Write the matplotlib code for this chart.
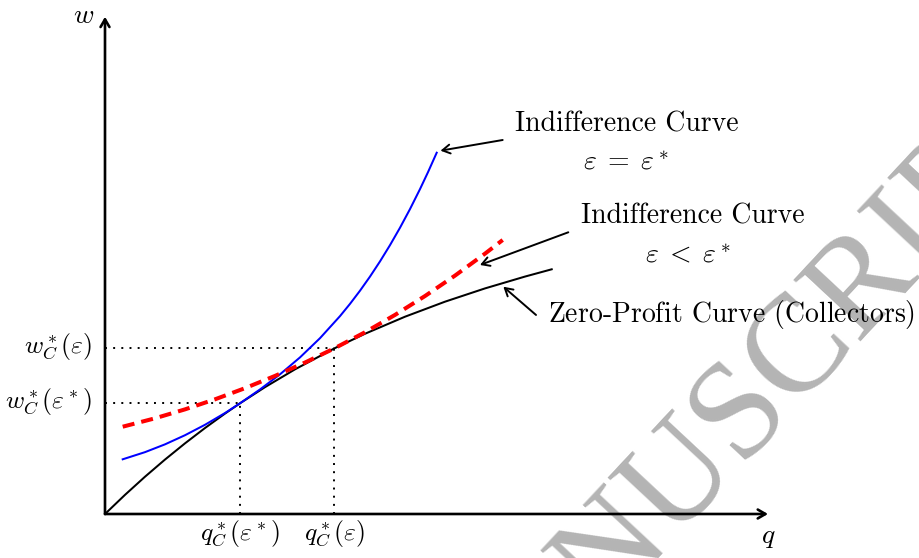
import matplotlib
matplotlib.use("Agg")
import matplotlib.pyplot as plt

plt.rcParams['mathtext.fontset'] = 'cm'
plt.rcParams['font.family'] = ['cmr10', 'DejaVu Serif']
plt.rcParams['axes.formatter.use_mathtext'] = True

# ---- data (conceptual units) ----
q_zero = [0.0, 0.3017, 0.6033, 0.905, 1.2066, 1.5083, 1.81, 2.0362, 2.4133, 2.8658,
          3.4615, 3.9216, 4.5249, 5.1282, 5.7315, 6.3348, 6.7376]
w_zero = [0.0, 0.2888, 0.5623, 0.8211, 1.0656, 1.2967, 1.5145, 1.6697, 1.9131, 2.1818,
          2.4991, 2.7186, 2.9757, 3.2023, 3.4026, 3.5811, 3.6908]

q_ic_eq = [0.267, 0.6033, 0.905, 1.2066, 1.5083, 1.81, 2.0362, 2.3379, 2.6395, 2.9412,
           3.2428, 3.5445, 3.6953, 3.8462, 3.997, 4.1478, 4.2986, 4.4495, 4.6003,
           4.7511, 4.8718, 5.003]
w_ic_eq = [0.825, 0.9329, 1.0505, 1.1882, 1.3456, 1.5229, 1.6697, 1.8787, 2.1068, 2.362,
           2.6519, 2.9846, 3.1694, 3.3679, 3.581, 3.8098, 4.0551, 4.3178, 4.5992,
           4.9002, 5.1558, 5.449]

q_ic_lt = [0.267, 0.7541, 1.2066, 1.6591, 2.1116, 2.5641, 3.0166, 3.4615, 3.9216, 4.3741,
           4.8265, 5.279, 5.7315, 5.9985]
w_ic_lt = [1.3167, 1.4433, 1.5781, 1.7297, 1.8979, 2.0828, 2.2845, 2.4992, 2.7413, 3.0027,
           3.2875, 3.5955, 3.9267, 4.133]

q_star_eq, w_star_eq = 2.036, 1.670   # q*_C(eps*), w*_C(eps*)
q_star_lt, w_star_lt = 3.4615, 2.499  # q*_C(eps),  w*_C(eps)
q_max, w_max = 10.0, 7.5

xtick_labels = [r'$q^*_C(\varepsilon^*)$', r'$q^*_C(\varepsilon)$']
ytick_labels = [r'$w^*_C(\varepsilon^*)$', r'$w^*_C(\varepsilon)$']

# ---- figure ----
fig = plt.figure(figsize=(9.2, 5.58), dpi=100)
ax = fig.add_axes([0, 0, 1, 1])
ax.set_xlim(-1.5837, 12.2926)
ax.set_ylim(-0.6637, 7.7526)
ax.axis('off')

# watermark (behind everything)
ax.text(0.4909, -0.3916, 'MANUSCRIPT', fontsize=100, color='#b4b4b4',
        family='Liberation Serif', rotation=47, rotation_mode='anchor',
        ha='left', va='baseline', zorder=0, transform=fig.transFigure, clip_on=False)

# axes with arrows
head = '->,head_length=0.55,head_width=0.32'
ax.annotate('', xy=(q_max, 0), xytext=(0, 0),
            arrowprops=dict(arrowstyle=head, lw=1.9, color='black',
                            shrinkA=0, shrinkB=0), zorder=5)
ax.annotate('', xy=(0, w_max), xytext=(0, 0),
            arrowprops=dict(arrowstyle=head, lw=1.9, color='black',
                            shrinkA=0, shrinkB=0), zorder=5)
ax.text(-0.317, 7.511, r'$w$', fontsize=20, ha='center', va='center')
ax.text(q_max, -0.151, r'$q$', fontsize=20, ha='center', va='top')

# dotted guides
dot = dict(color='black', lw=1.4, linestyle=(0, (1, 3.2)), zorder=2)
ax.plot([0, q_star_eq], [w_star_eq, w_star_eq], **dot)
ax.plot([q_star_eq, q_star_eq], [0, w_star_eq], **dot)
ax.plot([0, q_star_lt], [w_star_lt, w_star_lt], **dot)
ax.plot([q_star_lt, q_star_lt], [0, w_star_lt], **dot)

# curves
ax.plot(q_zero, w_zero, color='black', lw=1.45, zorder=3)
ax.plot(q_ic_eq, w_ic_eq, color='#0000ff', lw=1.45, zorder=3)
ax.plot(q_ic_lt, w_ic_lt, color='#ff0000', lw=2.9, linestyle=(0, (3.0, 1.75)),
        dash_capstyle='butt', zorder=4)

# tick-like labels
for q, lab in zip([q_star_eq, q_star_lt], xtick_labels):
    ax.text(q, -0.06, lab, fontsize=18.5, ha='center', va='top')
for w, lab in zip([w_star_eq, w_star_lt], ytick_labels):
    ax.text(-0.196, w + 0.02, lab, fontsize=18.5, ha='right', va='center')

# annotations
arr = dict(arrowstyle='->,head_length=0.55,head_width=0.32', lw=1.4, color='black',
           shrinkA=0, shrinkB=0)
ax.annotate('', xy=(5.060, 5.480), xytext=(5.998, 5.641), arrowprops=arr)
ax.annotate('', xy=(5.656, 3.756), xytext=(6.988, 4.249), arrowprops=arr)
ax.annotate('', xy=(6.008, 3.428), xytext=(6.501, 3.002), arrowprops=arr)

ax.text(7.870, 5.766, 'Indifference Curve', fontsize=20, ha='center', va='baseline',
        zorder=6)
ax.text(7.855, 5.199, r'$\varepsilon\;=\;\varepsilon^*$', fontsize=20, ha='center',
        va='baseline', zorder=6)
ax.text(8.869, 4.385, 'Indifference Curve', fontsize=20, ha='center', va='baseline',
        zorder=6)
ax.text(8.801, 3.796, r'$\varepsilon\;<\;\varepsilon^*$', fontsize=20, ha='center',
        va='baseline', zorder=6)
ax.text(6.682, 2.896, r'Zero-Profit Curve $\mathrm{(Collectors)}$', fontsize=20,
        ha='left', va='baseline', zorder=6)

fig.savefig('out.png', dpi=100)
